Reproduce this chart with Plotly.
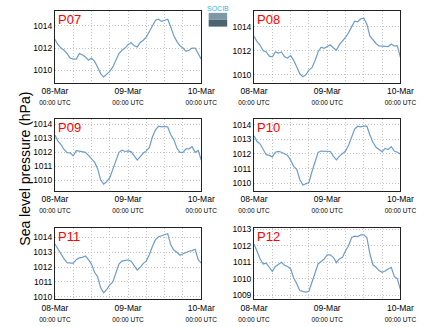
import plotly.graph_objects as go
import pandas as pd

times = pd.date_range("2023-03-08 00:00", periods=49, freq="h")

p07 = [1012.8, 1012.3, 1012.0, 1011.8, 1011.5, 1011.1, 1011.0, 1011.0, 1011.5, 1011.4,
       1011.2, 1010.9, 1011.1, 1010.8, 1010.3, 1009.7, 1009.4, 1009.7, 1009.9, 1010.3,
       1010.9, 1011.5, 1011.8, 1012.0, 1012.3, 1012.5, 1012.2, 1012.1, 1012.5, 1012.7,
       1013.0, 1013.5, 1014.0, 1014.5, 1014.6, 1014.4, 1014.5, 1014.6, 1013.9, 1013.1,
       1012.6, 1012.2, 1012.0, 1011.7, 1011.8, 1012.0, 1012.0, 1011.5, 1011.0]
p08 = [1013.2, 1012.75, 1012.45, 1012.0, 1011.9, 1011.55, 1011.5, 1011.9, 1011.8, 1011.9,
       1011.5, 1011.4, 1011.6, 1011.2, 1010.65, 1010.1, 1009.85, 1010.0, 1010.4, 1010.6,
       1011.2, 1011.9, 1012.3, 1012.2, 1012.35, 1012.5, 1012.25, 1012.05, 1012.5, 1012.8,
       1013.1, 1013.5, 1014.0, 1014.45, 1014.4, 1014.65, 1014.7, 1014.2, 1013.2, 1012.9,
       1012.6, 1012.4, 1012.4, 1012.4, 1012.35, 1012.55, 1012.4, 1012.4, 1011.45]
p09 = [1013.23, 1012.8, 1012.55, 1012.2, 1011.97, 1011.96, 1011.75, 1012.12, 1012.08, 1012.05,
       1012.0, 1011.78, 1011.54, 1011.3, 1010.84, 1010.05, 1009.75, 1009.92, 1010.2, 1010.8,
       1011.35, 1012.0, 1012.15, 1012.06, 1012.1, 1012.05, 1011.75, 1011.45, 1011.7, 1011.95,
       1012.1, 1012.36, 1013.1, 1013.6, 1013.85, 1013.8, 1013.84, 1013.8, 1013.25, 1012.9,
       1012.3, 1012.0, 1012.0, 1012.25, 1012.25, 1012.4, 1012.0, 1012.13, 1011.45]
p10 = [1013.25, 1012.85, 1012.68, 1012.3, 1011.95, 1011.9, 1011.8, 1012.12, 1012.17, 1012.12,
       1012.0, 1011.9, 1011.58, 1011.15, 1010.95, 1010.25, 1009.87, 1009.97, 1010.05, 1010.8,
       1011.45, 1012.1, 1012.2, 1012.19, 1012.19, 1012.17, 1011.85, 1011.6, 1011.85, 1012.0,
       1012.2, 1012.6, 1013.2, 1013.7, 1013.9, 1013.85, 1013.9, 1013.9, 1013.3, 1012.8,
       1012.46, 1012.3, 1012.15, 1012.38, 1012.3, 1012.5, 1012.2, 1012.12, 1012.0]
p11 = [1013.56, 1013.2, 1012.88, 1012.55, 1012.3, 1012.3, 1012.25, 1012.5, 1012.62, 1012.66,
       1012.75, 1012.5, 1012.2, 1011.65, 1011.35, 1010.6, 1010.27, 1010.5, 1010.8, 1011.0,
       1011.6, 1012.2, 1012.4, 1012.42, 1012.49, 1012.4, 1012.05, 1011.8, 1012.0, 1012.25,
       1012.42, 1012.85, 1013.4, 1013.85, 1014.05, 1014.1, 1014.2, 1014.25, 1013.5, 1013.15,
       1013.0, 1012.8, 1012.9, 1013.0, 1013.07, 1013.11, 1013.2, 1012.5, 1012.27]
p12 = [1012.1, 1011.6, 1011.2, 1010.9, 1010.95, 1010.7, 1010.45, 1010.75, 1010.85, 1011.0,
       1010.82, 1010.75, 1010.6, 1010.05, 1009.7, 1009.3, 1009.24, 1009.2, 1009.25, 1009.85,
       1010.4, 1010.9, 1011.05, 1011.2, 1011.45, 1011.45, 1011.3, 1010.98, 1011.2, 1011.3,
       1011.7, 1012.0, 1012.5, 1012.58, 1012.55, 1012.65, 1012.66, 1012.5, 1011.5, 1010.85,
       1010.7, 1010.5, 1010.4, 1010.47, 1010.6, 1010.7, 1010.15, 1010.0, 1009.35]

names = ["P07", "P08", "P09", "P10", "P11", "P12"]
series = [p07, p08, p09, p10, p11, p12]
y_ranges = [[1008.87, 1015.35], [1009.35, 1015.3], [1009.25, 1014.35],
            [1009.46, 1014.38], [1009.82, 1014.67], [1008.76, 1013.1]]
y_dticks = [2, 2, 1, 1, 1, 1]

x_tickvals = ["2023-03-08 00:00", "2023-03-09 00:00", "2023-03-10 00:00"]
x_ticktext = [f"{d}<br><span style='font-size:6.5px'>00:00 UTC</span>" for d in ["08-Mar", "09-Mar", "10-Mar"]]

W, H = 434, 327
x_doms = [[42 / W, 200 / W], [257 / W, 415 / W]]
y_doms = [[1 - 81 / H, 1 - 8 / H], [1 - 191 / H, 1 - 118 / H], [1 - 301 / H, 1 - 228 / H]]

FONT = "Liberation Sans, Arial, sans-serif"
GRID = "#c4c4c4"
DASH = "1px,2px"
fig = go.Figure()
layout = dict(
    width=W, height=H, margin=dict(l=0, r=0, t=0, b=0),
    paper_bgcolor="white", plot_bgcolor="white", showlegend=False,
    font=dict(family=FONT, size=8.5, color="black"),
)
annotations = []
for i, (nm, s) in enumerate(zip(names, series)):
    row, col = divmod(i, 2)
    k = "" if i == 0 else str(i + 1)
    fig.add_trace(go.Scatter(x=times, y=s, mode="lines", xaxis="x" + k, yaxis="y" + k,
                             line=dict(color="#6d9ccb", width=1.2), hoverinfo="skip"))
    layout["xaxis" + k] = dict(
        domain=x_doms[col], anchor="y" + k, type="date",
        range=[times[0], times[-1]],
        tickvals=x_tickvals, ticktext=x_ticktext, tickangle=0,
        showgrid=True, gridcolor=GRID, griddash=DASH, gridwidth=1,
        minor=dict(dtick=6 * 3600 * 1000, tick0="2023-03-08", showgrid=True,
                   gridcolor=GRID, griddash=DASH, gridwidth=1, ticklen=0),
        showline=True, linecolor="#222", linewidth=1, mirror=True,
        ticks="", zeroline=False, tickfont=dict(size=8.5, family=FONT),
    )
    layout["yaxis" + k] = dict(
        domain=y_doms[row], anchor="x" + k, range=y_ranges[i], dtick=y_dticks[i],
        tickformat="d",
        showgrid=True, gridcolor=GRID, griddash=DASH, gridwidth=1,
        showline=True, linecolor="#222", linewidth=1, mirror=True,
        ticks="", zeroline=False, tickfont=dict(size=8.5, family=FONT),
    )
    annotations.append(dict(text=nm, xref=("x" + k) + " domain", yref=("y" + k) + " domain",
                            x=0.0, y=1.0, xanchor="left", yanchor="top", xshift=1, yshift=1,
                            showarrow=False, font=dict(color="#ff0000", size=13, family=FONT)))

annotations.append(dict(text="Sea level pressure (hPa)", xref="paper", yref="paper",
                        x=10 / W, y=1 - 168 / H, textangle=-90, showarrow=False,
                        xanchor="center", yanchor="middle",
                        font=dict(size=14, family=FONT, color="black")))
annotations.append(dict(text="SOCIB", xref="paper", yref="paper",
                        x=218 / W, y=1 - 6 / H, showarrow=False, xanchor="center", yanchor="middle",
                        font=dict(size=7, family=FONT, color="#35b5d5")))
layout["annotations"] = annotations
layout["shapes"] = [
    dict(type="rect", xref="paper", yref="paper",
         x0=208 / W, x1=228 / W, y0=1 - 17 / H, y1=1 - 10 / H,
         line=dict(width=0), fillcolor="#7f98a6"),
    dict(type="rect", xref="paper", yref="paper",
         x0=208 / W, x1=228 / W, y0=1 - 24 / H, y1=1 - 17 / H,
         line=dict(width=0), fillcolor="#4c6472"),
]
fig.update_layout(**layout)
fig.write_html("out.html")
